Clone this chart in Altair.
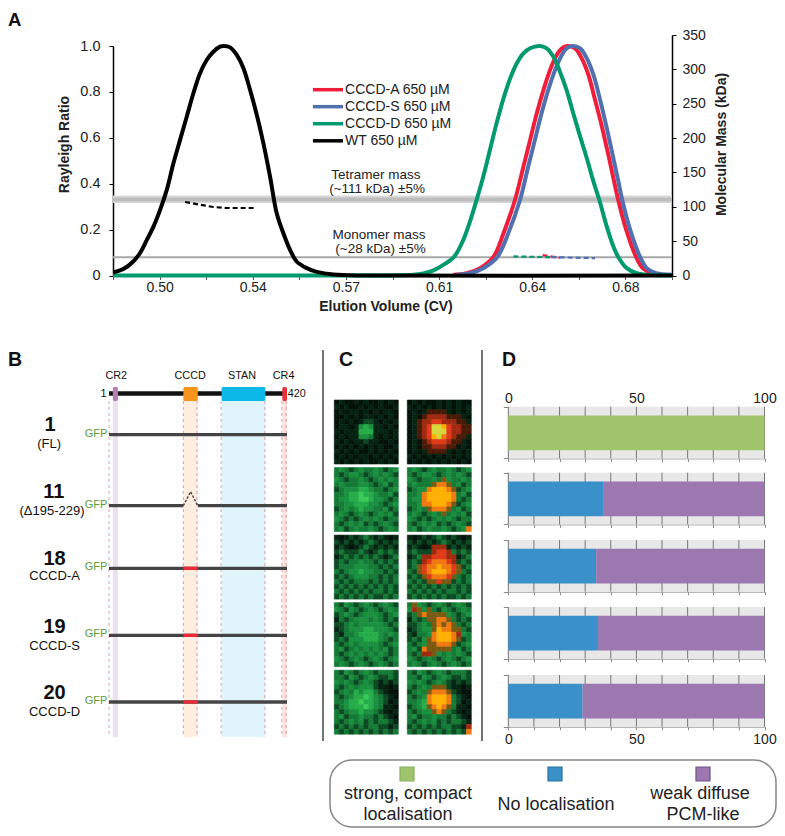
import json
import altair as alt
import pandas as pd

FONT = "Liberation Sans"
W, H = 769, 820
INK = "#222222"

# ---------- Panel A values ----------
series_names = ["CCCD-A 650 µM", "CCCD-S 650 µM", "CCCD-D 650 µM", "WT 650 µM"]
series_colors = ["#ef1f3c", "#5170b0", "#009a6e", "#000000"]

wt_cv = [.4826,.4864,.4901,.4926,.4952,.4977,.5002,.5027,.5052,.5077,.5102,.5127,.5152,.5177,.5202,.5227,.5242,
         .5265,.5290,.5315,.5340,.5365,.5390,.5415,.5440,.5465,.5490,.5515,.5553,.5590,.5653,.5778,.6925]
wt_r = [.013,.028,.061,.097,.155,.213,.286,.373,.489,.591,.692,.794,.881,.939,.975,.997,1.0,
        .994,.961,.903,.808,.700,.576,.431,.271,.184,.112,.061,.032,.016,.004,.0,.0]

d_cv = [.4825,.5600,.5953,.5991,.6029,.6066,.6106,.6141,.6166,.6191,.6216,.6241,.6266,.6292,.6317,.6342,.6367,.6392,.6427,
        .6454,.6479,.6504,.6529,.6554,.6580,.6605,.6630,.6652,.6680,.6705,.6723,.6755,.6792,.6830,.6924]
d_r = [.0,.0,.003,.009,.022,.046,.081,.155,.235,.329,.431,.547,.663,.772,.859,.925,.968,.990,1.0,
       .990,.954,.888,.808,.707,.605,.511,.409,.329,.213,.126,.081,.032,.010,.003,.001]

a_cv = [.6104,.6154,.6204,.6254,.6292,.6335,.6367,.6392,.6417,.6442,.6467,.6492,.6511,.6532,.6561,.6586,.6611,.6636,.6663,
        .6690,.6709,.6723,.6753,.6790,.6815,.6850,.6900]
a_r = [.003,.010,.032,.081,.184,.329,.475,.591,.707,.808,.896,.961,.990,1.0,.990,.946,.874,.765,.642,
       .504,.402,.329,.199,.081,.032,.010,.001]

s_cv = [.6116,.6166,.6216,.6269,.6310,.6354,.6385,.6410,.6435,.6460,.6486,.6511,.6529,.6552,.6580,.6605,.6630,.6655,.6680,
        .6706,.6725,.6738,.6768,.6805,.6830,.6865,.6924]
s_r = [.003,.010,.032,.081,.184,.329,.475,.591,.707,.808,.896,.961,.990,1.0,.990,.946,.874,.765,.642,
       .504,.402,.329,.199,.081,.032,.010,.003]

mass_wt_cv = [.5096,.5152,.5202,.5252,.5358]
mass_wt_kda = [107,103,99.7,98.2,98.2]
mass_d_cv = [.6329,.6467]
mass_d_kda = [27.7,26.7]
mass_a_cv = [.6439,.6504]
mass_a_kda = [29.6,25.8]
mass_s_cv = [.6473,.6636]
mass_s_kda = [26.7,25.3]

x_ticks = [.4825,.5,.5175,.535,.5525,.57,.5875,.605,.6225,.64,.6575,.675,.6925]
x_tick_text = {"0.5000":"0.50","0.5350":"0.54","0.5700":"0.57","0.6050":"0.61","0.6400":"0.64","0.6750":"0.68"}

notes = ["Tetramer mass", "(~111 kDa) ±5%", "Monomer mass", "(~28 kDa) ±5%"]
notes_cv = [.5813,.5817,.5824,.5830]
notes_kda = [146.6,125.4,59.1,37.9]

# ---------- Panel B values ----------
constructs = ["1","11","18","19","20"]
sublabels = ["(FL)","(Δ195-229)","CCCD-A","CCCD-S","CCCD-D"]
domain_names = ["CR2","CCCD","STAN","CR4"]
domain_start = [10,176,266,409]
domain_end = [22,210,369,420]
domain_colors = ["#b57fb5","#f7941d","#0cb8e8","#e8323c"]
shade_colors = ["#ecdff0","#fdeee0","#e0f4fc","#fde2e2"]
domain_label_res = [18,192,314,412]
edge_lines = [1,176,208,265,368,408,418]
row_track = [94.7,165.7,228.3,295.3,362]
num_track = [85,152,219,287,353]
num_res = [-138,-129,-127,-127,-127]
sub_track = [104,171,236,306,372]
sub_res = [-140,-133,-127,-127,-127]
peak_res = [176,193,210]

# ---------- Panel C values: one letter per micrograph cell ----------
palette = {"0":"#021208","1":"#052412","2":"#0c4a24","3":"#147a36","4":"#1a9040","5":"#25ad4a","6":"#3cc95a",
           "r":"#4a1a06","R":"#a02a10","S":"#e03a18","O":"#f07a10","Y":"#ffb000","L":"#d4d83a","B":"#7a5a12"}
img = [
 ["0100101001010","1010010101001","0101101010110","0010101101010","0101012210101","0110145411010","1011155511101",
  "0101144310101","1010112110010","0101010101001","1010100101010","0101011010101","1010101001010"],
 ["0101001010100","1010101010101","0101rrrr10101","010rRRRRrrr10","01rRRSSRRRrr1","01rRSLLYSRRrr","01rRSLLLSRRrr",
  "01rRSYLOSRrr1","010rRSSSRrr10","010rrRRRrr010","0101rrrr10101","1010101010101","0101010101010"],
 ["3432343343234","3234432343432","4323343234343","3433344323423","2344455433234","3345565543342","3445566544323",
  "3344555443234","2343454433423","3432343234342","4323234343233","3234342323432","3423433432343"],
 ["3432343343234","3234432343432","4323343B43343","34333BOOB3423","2344OYYYOB234","334OYYYYYO342","344OYYYYYO323",
  "334OOYYYOB234","2343BOOOB3423","3432343B34342","4323234343233","3234342323432","342343343234O"],
 ["1012123212101","2121212321212","1210123212121","2322232123232","1232323232123","2323343323232","2333444332323",
  "3234454433232","2323444332323","3232333232323","2323232323232","3232323233232","2323232322323"],
 ["1012123212101","2121212321212","12101RRR12121","23222RSSR3232","123RRSSSRR123","232RSOOOSR232","23BSOOYOOSB23",
  "32BSOYYYOSB32","232BSOOOSB323","3232BBSBB2323","2323232323232","3232323233232","2323232322323"],
 ["3243234323432","4324323432343","2343234443234","1323444343232","2234344444323","1234445544432","2133455554343",
  "2324445554323","3234344443234","3423434343423","3234343434323","4323432343234","3432343234323"],
 ["3B43234323432","4RB4B32432343","23BOBBBB43234","1323BBOOB3232","22343BOBOB323","12344BYOOBB32","21334OYYYOR43",
  "2324BOYYYOB23","3234BBOOOB234","342OBBBBB3423","323RRB4343432","4323432343234","3432343234323"],
 ["3243234323332","3324323432232","4343234321212","3234344421101","2343545532100","3234556543210","3345565543201",
  "2345556543110","3234454432101","3423343323210","3234342323321","2323232332212","3232323232323"],
 ["3243234323332","3324323432232","4343234321212","32343BBB21101","2343BOOOB2100","3234OYYYO3210","3345OYYYO3201",
  "2345BOYOB3110","32344BOB32101","3423343323210","3234342323321","232323233221R","323232323232O"],
]

# ---------- Panel D values ----------
cat_names = ["strong, compact localisation","No localisation","weak diffuse PCM-like"]
cat_colors = ["#a0c46c","#3a90c8","#9c78b0"]
cat_strokes = ["#8aad5c","#2a6f9e","#6d5488"]
strong = [100,0,0,0,0]
noloc = [0,37,34.3,35,29]
weak = [0,63,65.7,65,71]
d_ticks = list(range(0,101,10))

layers = []

def df(**kw):
    return pd.DataFrame(kw)

def pixel_text(text, x, y, **mark):
    return alt.Chart(df(t=[text])).mark_text(font=FONT, **mark).encode(
        text="t:N", x=alt.value(x), y=alt.value(y))

# ================= A =================
cv_scale = alt.Scale(domain=[.4825,.6925], range=[105,664])
r_scale = alt.Scale(domain=[0,1], range=[267.5,38])
kda_scale = alt.Scale(domain=[0,350], range=[267.5,27])
col_scale = alt.Scale(domain=series_names, range=series_colors)
X_A = lambda f="x": alt.X(f"{f}:Q", scale=cv_scale, axis=None)
Y_K = lambda f="y": alt.Y(f"{f}:Q", scale=kda_scale, axis=None)

layers.append(alt.Chart(df(x=[.4825],x2=[.6925],y=[105.5],y2=[116.5])).mark_rect(color="#d8d8d8").encode(
    x=X_A(), x2="x2:Q", y=Y_K(), y2="y2:Q"))
layers.append(alt.Chart(df(x=[.4825],x2=[.6925],y=[110.5])).mark_rule(color="#bdbdbd", size=4).encode(
    x=X_A(), x2="x2:Q", y=Y_K()))
layers.append(alt.Chart(df(x=[.4825],x2=[.6925],y=[26.5])).mark_rule(color="#a8a8a8", size=2).encode(
    x=X_A(), x2="x2:Q", y=Y_K()))

curve = pd.concat([
    df(cv=a_cv, r=a_r, s=series_names[0]),
    df(cv=s_cv, r=s_r, s=series_names[1]),
    df(cv=d_cv, r=d_r, s=series_names[2]),
    df(cv=wt_cv, r=wt_r, s=series_names[3]),
])
x_label_expr = json.dumps(x_tick_text) + "[format(datum.value,'.4f')] || ''"
layers.append(alt.Chart(curve).mark_line(strokeWidth=4, interpolate="catmull-rom", strokeJoin="round").encode(
    x=alt.X("cv:Q", scale=cv_scale, axis=alt.Axis(
        orient="bottom", offset=-(H-267.5), values=x_ticks, labelExpr=x_label_expr, grid=False,
        title="Elution Volume (CV)", titleFont=FONT, titleFontSize=14, titleFontWeight="bold", titleColor=INK,
        titleX=377.5, titleY=24, domainColor="#000000", domainWidth=2, tickColor="#555555", tickSize=4,
        labelFont=FONT, labelFontSize=14, labelColor=INK, labelPadding=1, labelOverlap=False, labelBound=False, labelFlush=False)),
    y=alt.Y("r:Q", scale=r_scale, axis=alt.Axis(
        orient="left", offset=-105, values=[0,.2,.4,.6,.8,1],
        labelExpr="datum.value==0 ? '0' : format(datum.value,'.1f')", grid=False,
        title="Rayleigh Ratio", titleFont=FONT, titleFontSize=14, titleFontWeight="bold", titleColor=INK,
        titleX=-42, titleY=136, domainColor="#000000", domainWidth=1.5, tickColor="#000000", tickSize=4,
        labelFont=FONT, labelFontSize=14.5, labelColor=INK, labelPadding=9, labelBound=False, labelFlush=False)),
    color=alt.Color("s:N", scale=col_scale, legend=None),
    detail="s:N",
))

mass = pd.concat([
    df(cv=mass_a_cv, k=mass_a_kda, s=series_names[0]),
    df(cv=mass_s_cv, k=mass_s_kda, s=series_names[1]),
    df(cv=mass_d_cv, k=mass_d_kda, s=series_names[2]),
    df(cv=mass_wt_cv, k=mass_wt_kda, s=series_names[3]),
])
layers.append(alt.Chart(mass).mark_line(strokeWidth=2.2, strokeDash=[5,3]).encode(
    x=alt.X("cv:Q", scale=cv_scale, axis=None),
    y=alt.Y("k:Q", scale=kda_scale, axis=alt.Axis(
        orient="right", offset=-(W-664), values=list(range(0,351,50)), grid=False,
        title="Molecular Mass (kDa)", titleFont=FONT, titleFontSize=14, titleFontWeight="bold", titleColor=INK,
        titleAngle=270, titleX=56, titleY=136, domainColor="#000000", domainWidth=1.5, tickColor="#000000", tickSize=4,
        labelFont=FONT, labelFontSize=14, labelColor=INK, labelPadding=6, labelBound=False, labelFlush=False)),
    color=alt.Color("s:N", scale=col_scale, legend=None),
))
layers.append(alt.Chart(df(t=notes, x=notes_cv, y=notes_kda)).mark_text(font=FONT, fontSize=13.5, color=INK).encode(
    text="t:N", x=X_A(), y=Y_K()))

# hand-placed key of panel A, at its place inside the plot
key = df(s=series_names, x=[.5576]*4, x2=[.5689]*4, xt=[.5697]*4, y=[270.4,245.7,220.9,196.0])
layers.append(alt.Chart(key).mark_rule(size=3.5).encode(
    x=X_A(), x2="x2:Q", y=Y_K(), color=alt.Color("s:N", scale=col_scale, legend=None)))
layers.append(alt.Chart(key).mark_text(font=FONT, fontSize=14, color=INK, align="left").encode(
    text="s:N", x=X_A("xt"), y=Y_K()))

# ================= B =================
res_scale = alt.Scale(domain=[1,420], range=[101,279])
trk_scale = alt.Scale(domain=[0,400], range=[332,732])
X_B = lambda f="x": alt.X(f"{f}:Q", scale=res_scale, axis=None)
Y_B = lambda f="y": alt.Y(f"{f}:Q", scale=trk_scale, axis=None)

layers.append(alt.Chart(df(x=domain_start,x2=domain_end,y=[61]*4,y2=[397]*4,c=shade_colors)).mark_rect().encode(
    x=X_B(), x2="x2:Q", y=Y_B(), y2="y2:Q", fill=alt.Fill("c:N", scale=None)))
layers.append(alt.Chart(df(x=edge_lines,y=[61]*7,y2=[397]*7)).mark_rule(color="#d68a8a", strokeWidth=0.8, strokeDash=[3,3]).encode(
    x=X_B(), y=Y_B(), y2="y2:Q"))
layers.append(alt.Chart(df(x=[1],x2=[420],y=[53.5])).mark_rule(color="#111111", size=4.5).encode(
    x=X_B(), x2="x2:Q", y=Y_B()))
layers.append(alt.Chart(df(x=domain_start,x2=domain_end,y=[47]*4,y2=[61]*4,c=domain_colors)).mark_rect(cornerRadius=1.5).encode(
    x=X_B(), x2="x2:Q", y=Y_B(), y2="y2:Q", fill=alt.Fill("c:N", scale=None)))
layers.append(alt.Chart(df(t=domain_names,x=domain_label_res,y=[36]*4)).mark_text(font=FONT,fontSize=10.8,color="#111111").encode(
    text="t:N", x=X_B(), y=Y_B()))
layers.append(alt.Chart(df(t=["1"],x=[-5],y=[54])).mark_text(font=FONT,fontSize=10.8,color="#111111",align="right").encode(
    text="t:N", x=X_B(), y=Y_B()))
layers.append(alt.Chart(df(t=["420"],x=[422],y=[54])).mark_text(font=FONT,fontSize=10.8,color="#111111",align="left").encode(
    text="t:N", x=X_B(), y=Y_B()))

seg_x, seg_x2, seg_y = [], [], []
for i, y in enumerate(row_track):
    if constructs[i] == "11":
        seg_x += [1, peak_res[2]]; seg_x2 += [peak_res[0], 420]; seg_y += [y, y]
    else:
        seg_x.append(1); seg_x2.append(420); seg_y.append(y)
layers.append(alt.Chart(df(x=seg_x,x2=seg_x2,y=seg_y)).mark_rule(color="#444444", size=3.3).encode(
    x=X_B(), x2="x2:Q", y=Y_B()))
layers.append(alt.Chart(df(x=[176]*3,x2=[210]*3,y=row_track[2:])).mark_rule(color="#ee2a38", size=3.3).encode(
    x=X_B(), x2="x2:Q", y=Y_B()))
layers.append(alt.Chart(df(x=peak_res,y=[row_track[1],row_track[1]-14,row_track[1]])).mark_line(
    color="#444444", strokeWidth=1.4, strokeDash=[2.5,1.5]).encode(x=X_B(), y=Y_B()))
layers.append(alt.Chart(df(t=["GFP"]*5,x=[-3]*5,y=[r-1 for r in row_track])).mark_text(
    font=FONT,fontSize=11,color="#5a9e3a",align="right").encode(text="t:N", x=X_B(), y=Y_B()))
layers.append(alt.Chart(df(t=constructs,x=num_res,y=num_track)).mark_text(
    font=FONT,fontSize=20,fontWeight="bold",color="#111111").encode(text="t:N", x=X_B(), y=Y_B()))
layers.append(alt.Chart(df(t=sublabels,x=sub_res,y=sub_track)).mark_text(
    font=FONT,fontSize=13,color="#111111").encode(text="t:N", x=X_B(), y=Y_B()))

# ================= C =================
rows = []
for k, grid in enumerate(img):
    col = k % 2
    row = k // 2
    for i, line in enumerate(grid):
        for j, ch in enumerate(line):
            u = col*14.83 + j
            v = row*13.72 + i
            rows.append((u, u+1, v, v+1, palette[ch]))
cells = pd.DataFrame(rows, columns=["u","u2","v","v2","c"])
layers.append(alt.Chart(cells).mark_rect(strokeWidth=0.6).encode(
    x=alt.X("u:Q", scale=alt.Scale(domain=[0,27.83], range=[326.3,463.3]), axis=None), x2="u2:Q",
    y=alt.Y("v:Q", scale=alt.Scale(domain=[0,67.88], range=[392,726.2]), axis=None), y2="v2:Q",
    fill=alt.Fill("c:N", scale=None), stroke=alt.Stroke("c:N", scale=None)))
for x in [315, 474]:
    layers.append(alt.Chart(df(a=[0])).mark_rule(color="#444444", strokeWidth=1.5).encode(
        x=alt.value(x), y=alt.value(342), y2=alt.value(733)))

# ================= D =================
tops = [398.7,464.7,532,599,667]
row_h = 51.7
pct_scale = alt.Scale(domain=[0,100], range=[500.3,756.5])
for i in range(5):
    y_sc = alt.Scale(domain=[0,1], range=[tops[i]+row_h, tops[i]])
    last = i == 4
    xax = alt.Axis(orient="bottom", offset=-(H-tops[i]-row_h), values=d_ticks, grid=False, title=None,
                   labels=last, domainColor="#999999", tickColor="#888888", tickSize=3,
                   labelFont=FONT, labelFontSize=14, labelColor=INK, labelPadding=3, labelBound=False, labelFlush=False,
                   labelOverlap=False, labelExpr="datum.value%50==0 ? datum.label : ''")
    yax = alt.Axis(orient="left", offset=-500.3, values=[0,1], grid=False, title=None, labels=False,
                   domainColor="#999999", tickColor="#888888", tickSize=5)
    layers.append(alt.Chart(df(x=[0],x2=[100],y=[0],y2=[1])).mark_rect(color="#e8e8e8").encode(
        x=alt.X("x:Q", scale=pct_scale, axis=xax), x2="x2:Q",
        y=alt.Y("y:Q", scale=y_sc, axis=yax), y2="y2:Q"))
    topax = None
    if i == 0:
        topax = alt.Axis(orient="top", offset=-tops[0], values=d_ticks, grid=False, title=None, domain=False, ticks=False,
                         labelFont=FONT, labelFontSize=14, labelColor=INK, labelPadding=1, labelBound=False, labelFlush=False,
                         labelOverlap=False, labelExpr="datum.value%50==0 ? datum.label : ''")
    layers.append(alt.Chart(df(x=d_ticks,y=[0]*11,y2=[1]*11)).mark_rule(color="#777777", strokeWidth=1).encode(
        x=alt.X("x:Q", scale=pct_scale, axis=topax),
        y=alt.Y("y:Q", scale=y_sc, axis=None), y2="y2:Q"))
    s1 = strong[i]; s2 = s1 + noloc[i]; s3 = s2 + weak[i]
    bars = df(x=[0,s1,s2], x2=[s1,s2,s3], y=[.16]*3, y2=[.83]*3, cat=cat_names)
    bars = bars[bars.x2 > bars.x]
    layers.append(alt.Chart(bars).mark_rect().encode(
        x=alt.X("x:Q", scale=pct_scale, axis=None), x2="x2:Q",
        y=alt.Y("y:Q", scale=y_sc, axis=None), y2="y2:Q",
        color=alt.Color("cat:N", scale=alt.Scale(domain=cat_names, range=cat_colors), legend=None)))

# ================= bottom key =================
layers.append(alt.Chart(df(a=[0])).mark_rect(cornerRadius=22, fillOpacity=0, stroke="#888888", strokeWidth=1.5).encode(
    x=alt.value(322), x2=alt.value(768), y=alt.value(752), y2=alt.value(819)))
key_x = alt.X("cat:N", scale=alt.Scale(type="point", domain=cat_names, range=[399,695], padding=0), axis=None)
layers.append(alt.Chart(df(cat=cat_names)).mark_square(size=196, opacity=1, strokeWidth=1.2, filled=True).encode(
    x=key_x, y=alt.value(766),
    fill=alt.Fill("cat:N", scale=alt.Scale(domain=cat_names, range=cat_colors), legend=None),
    stroke=alt.Stroke("cat:N", scale=alt.Scale(domain=cat_names, range=cat_strokes), legend=None)))
for text, cat, y, dx in [("strong, compact",0,786,1),("localisation",0,807,1),("No localisation",1,797,1),
                         ("weak diffuse",2,786,-3),("PCM-like",2,807,0)]:
    layers.append(alt.Chart(df(t=[text],cat=[cat_names[cat]])).mark_text(font=FONT,fontSize=18,color=INK,dx=dx).encode(
        text="t:N", x=key_x, y=alt.value(y)))

# ================= panel letters =================
for text, x, y, size in [("A",0,17.5,18.5),("B",0,358,19.5),("C",331,358,19.5),("D",494,358,19.5)]:
    layers.append(pixel_text(text, x, y, fontSize=size, fontWeight="bold", color="#111111", align="left", baseline="alphabetic"))

chart = alt.layer(*layers).resolve_scale(
    x="independent", y="independent", color="independent", fill="independent", stroke="independent"
).properties(
    width=W, height=H, padding=0, autosize=alt.AutoSizeParams(type="none")
).configure_view(stroke=None)

chart.save("out.html", embed_options={"renderer": "svg", "actions": False})
